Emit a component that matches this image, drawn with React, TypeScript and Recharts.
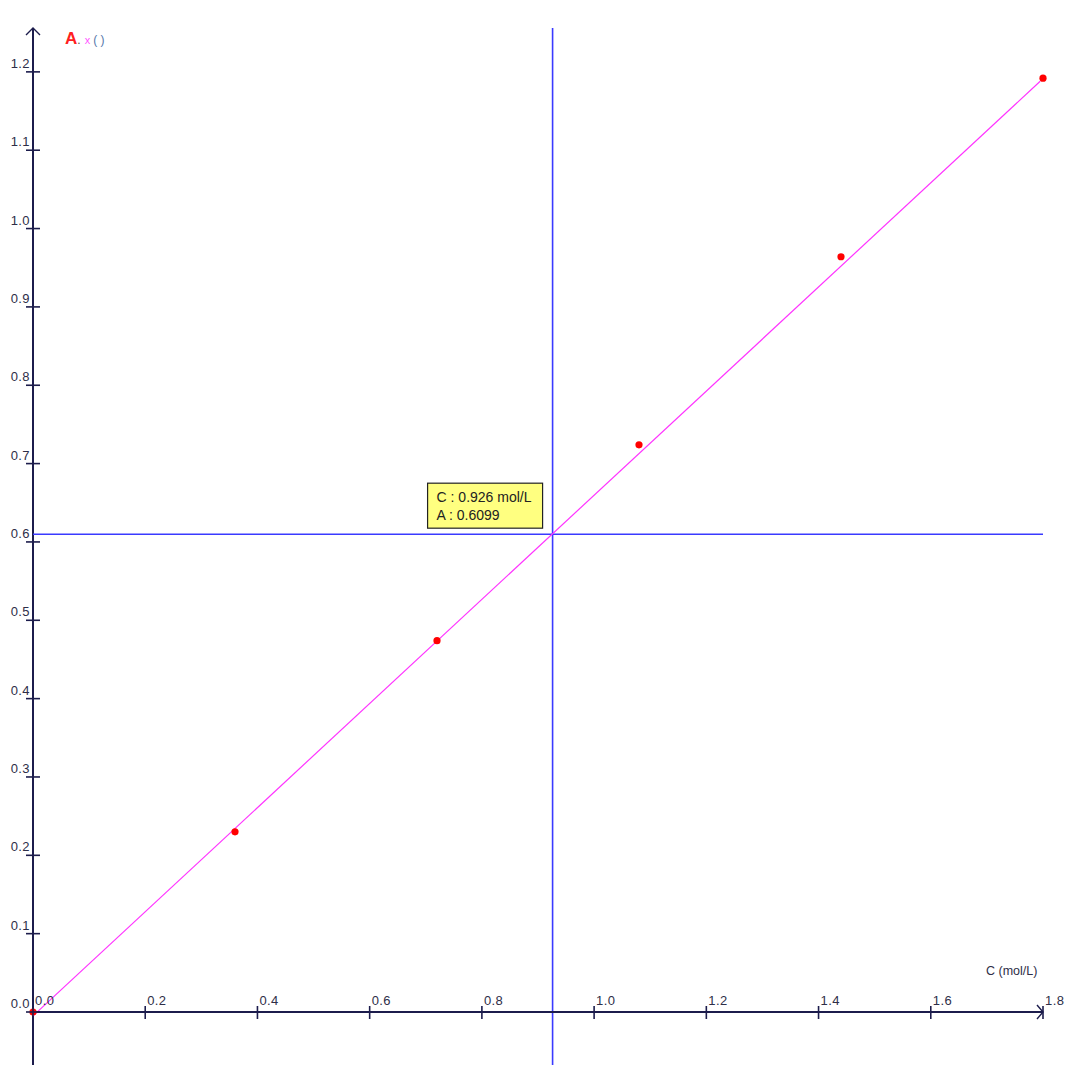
import { ComposedChart, XAxis, YAxis, Scatter, ReferenceLine, ReferenceDot } from 'recharts';

// measured points C (mol/L) -> A
const concentrations = [0, 0.36, 0.72, 1.08, 1.44, 1.8];
const absorbances = [0, 0.23, 0.474, 0.724, 0.964, 1.192];

const xTicks = [0, 0.2, 0.4, 0.6, 0.8, 1.0, 1.2, 1.4, 1.6, 1.8];
const yTicks = [0, 0.1, 0.2, 0.3, 0.4, 0.5, 0.6, 0.7, 0.8, 0.9, 1.0, 1.1, 1.2];

// regression line end points
const fitC = [0, 1.795];
const fitA = [-0.005, 1.188];

// cursor readout
const cursorC = 0.926;
const cursorA = 0.6099;
const cursorLines = ['C : 0.926 mol/L', 'A : 0.6099'];

const xLabel = 'C (mol/L)';

const X_MAX = 1.8;
const Y_MAX = 1.256;
const Y_BELOW = -0.07;

const points = concentrations.map((c, i) => ({ c, a: absorbances[i] }));

const AXIS = '#1c1c4c';
const TXT = '#2e2e48';
const BLUE = '#3a3aff';
const FONT = '"Liberation Sans", Arial, sans-serif';

const XTick = (props: any) => {
  const { x, y, payload } = props;
  return (
    <g>
      <line x1={x} x2={x} y1={y - 6} y2={y + 7} stroke={AXIS} strokeWidth={1.6} />
      <text x={x + 2} y={y - 7} fontSize={13} letterSpacing={0.4} fill={TXT} fontFamily={FONT}>
        {Number(payload.value).toFixed(1)}
      </text>
    </g>
  );
};

const YTick = (props: any) => {
  const { x, y, payload } = props;
  return (
    <g>
      <line x1={x - 7} x2={x + 7} y1={y} y2={y} stroke={AXIS} strokeWidth={1.6} />
      <text x={x - 3} y={y - 4} textAnchor="end" fontSize={13} letterSpacing={0.4} fill={TXT} fontFamily={FONT}>
        {Number(payload.value).toFixed(1)}
      </text>
    </g>
  );
};

const Dot = (props: any) => <circle cx={props.cx} cy={props.cy} r={3.6} fill="#ff0000" />;

const UpArrow = (props: any) => (
  <path d={`M${props.cx - 7},${props.cy + 7} L${props.cx},${props.cy} L${props.cx + 7},${props.cy + 7}`} fill="none" stroke={AXIS} strokeWidth={1.4} />
);

const RightArrow = (props: any) => (
  <path d={`M${props.cx - 6},${props.cy - 7} L${props.cx},${props.cy} L${props.cx - 6},${props.cy + 7}`} fill="none" stroke={AXIS} strokeWidth={1.4} />
);

const CursorBox = (props: any) => {
  const { cx, cy } = props;
  return (
    <g>
      <rect x={cx - 125} y={cy - 51} width={115} height={45} fill="#ffff80" stroke="#222" strokeWidth={1.2} />
      {cursorLines.map((t, i) => (
        <text key={t} x={cx - 116} y={cy - 32 + i * 18} fontSize={14} fill="#222" fontFamily={FONT}>
          {t}
        </text>
      ))}
    </g>
  );
};

export default function App() {
  return (
    <div style={{ position: 'absolute', left: 0, top: 0, width: 1077, height: 1065, background: '#fff' }}>
      <ComposedChart
        width={1077}
        height={1065}
        data={points}
        margin={{ top: 28, right: 34, bottom: 52, left: 32 }}
      >
        <XAxis
          dataKey="c"
          type="number"
          domain={[0, X_MAX]}
          ticks={xTicks}
          height={1}
          tickSize={0}
          tickMargin={0}
          tick={<XTick />}
          axisLine={{ stroke: AXIS, strokeWidth: 2 }}
          tickLine={false}
          interval={0}
        />
        <YAxis
          type="number"
          domain={[0, Y_MAX]}
          ticks={yTicks}
          width={1}
          tickSize={0}
          tickMargin={0}
          tick={<YTick />}
          axisLine={false}
          tickLine={false}
          interval={0}
        />
        <ReferenceLine
          segment={[{ x: 0, y: Y_BELOW }, { x: 0, y: Y_MAX }]}
          stroke={AXIS}
          strokeWidth={2}
          ifOverflow="visible"
        />
        <ReferenceDot x={0} y={Y_MAX} r={0} ifOverflow="visible" shape={<UpArrow />} />
        <ReferenceDot x={X_MAX} y={0} r={0} ifOverflow="visible" shape={<RightArrow />} />
        <ReferenceLine
          segment={[{ x: cursorC, y: Y_BELOW }, { x: cursorC, y: Y_MAX }]}
          stroke={BLUE}
          strokeWidth={1.6}
          ifOverflow="visible"
        />
        <ReferenceLine y={cursorA} stroke={BLUE} strokeWidth={1.6} />
        <ReferenceLine
          segment={[{ x: fitC[0], y: fitA[0] }, { x: fitC[1], y: fitA[1] }]}
          stroke="#ff33ff"
          strokeWidth={1.2}
          ifOverflow="visible"
        />
        <ReferenceDot x={cursorC} y={cursorA} r={0} ifOverflow="visible" shape={<CursorBox />} />
        <Scatter dataKey="a" shape={<Dot />} isAnimationActive={false} />
      </ComposedChart>
      <svg
        width={1077}
        height={1065}
        style={{ position: 'absolute', left: 0, top: 0, pointerEvents: 'none' }}
      >
        <text x={65} y={44} fontFamily={FONT} fontWeight="bold" fontSize={17} fill="#ff2020">
          A
          <tspan fontSize={12} fontWeight="normal" fill="#555">.</tspan>
          <tspan dx={4} fontSize={11} fontWeight="normal" fill="#ff55ff">x</tspan>
          <tspan dx={3} fontSize={12} fontWeight="normal" fill="#5577aa">( )</tspan>
        </text>
        <text x={986} y={975} fontFamily={FONT} fontSize={12.5} fill={TXT}>
          {xLabel}
        </text>
      </svg>
    </div>
  );
}
